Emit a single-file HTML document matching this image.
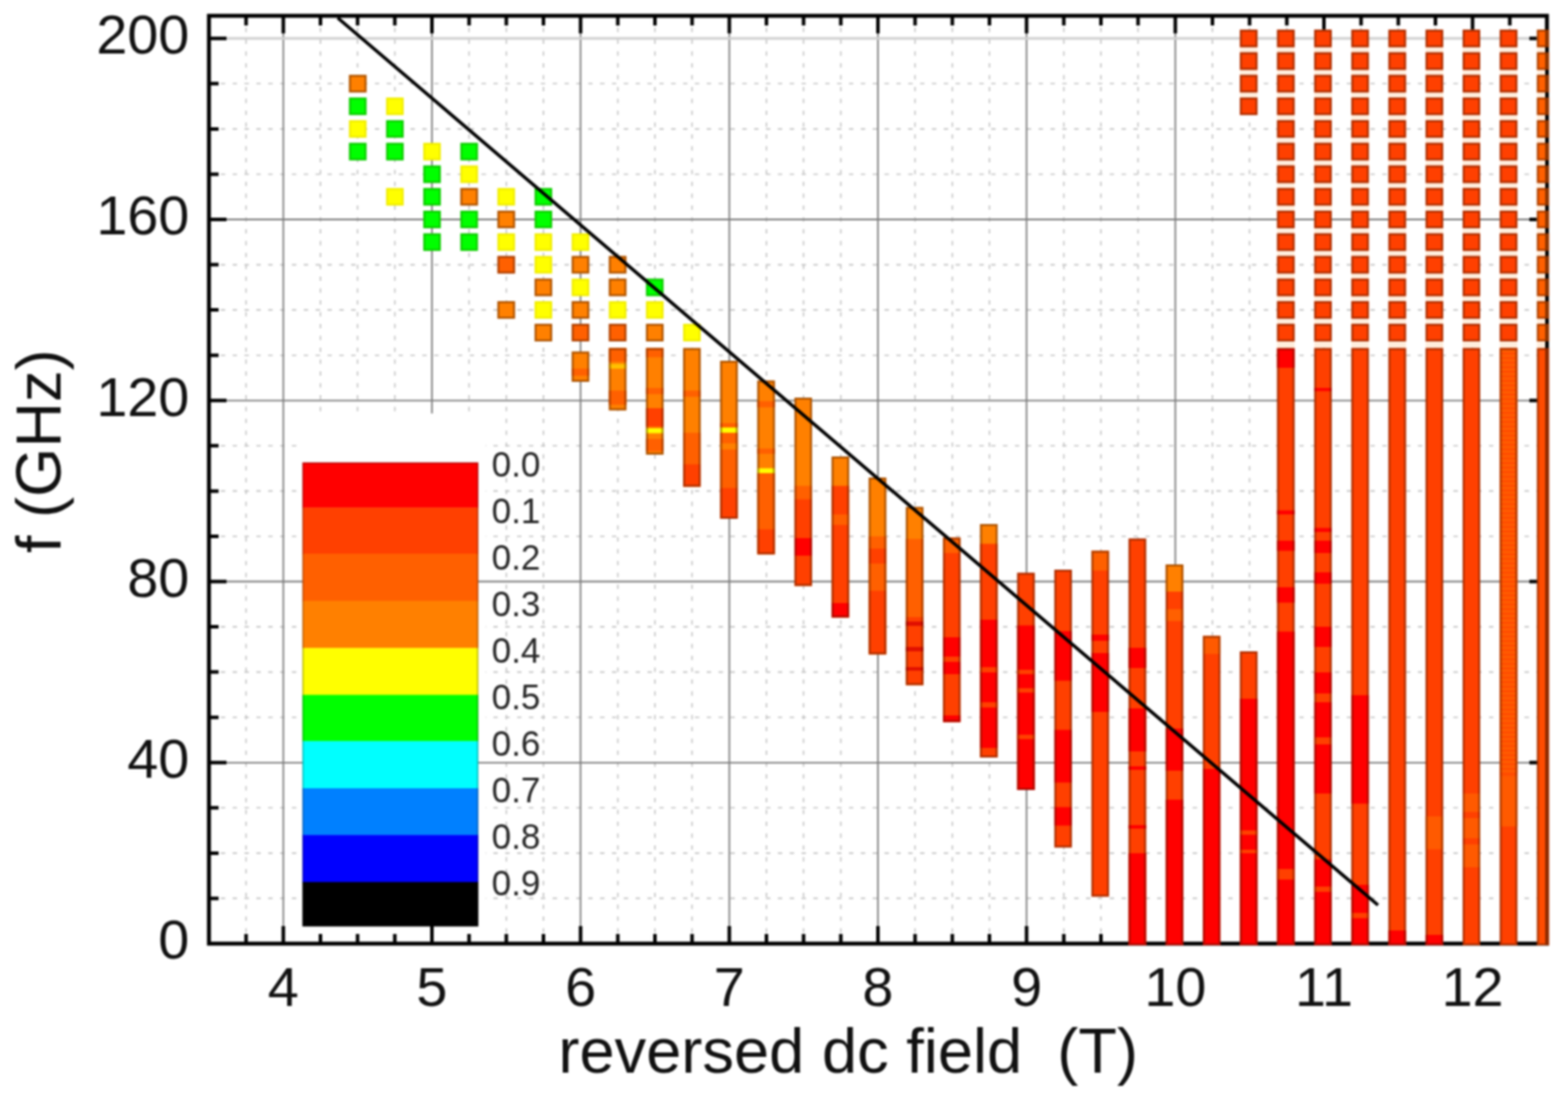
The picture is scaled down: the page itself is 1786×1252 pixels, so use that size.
<!DOCTYPE html><html><head><meta charset="utf-8"><title>reversed dc field plot</title><style>html,body{margin:0;padding:0;background:#fff;width:1786px;height:1252px;overflow:hidden}svg{display:block}#w{filter:blur(0.9px);width:1786px;height:1252px}text{font-family:"Liberation Sans",Arial,Helvetica,sans-serif;fill:#111}</style></head><body>
<div id="w"><svg width="1786" height="1252" viewBox="0 0 1786 1252">
<rect x="0" y="0" width="1786" height="1252" fill="#fff"/>
<defs><clipPath id="pc"><rect x="236" y="16" width="1524" height="1061.5"/></clipPath><clipPath id="rc"><rect x="1759.8" y="16" width="5" height="1061.5"/></clipPath></defs>
<path d="M280.3 18.0V1075.0M365.0 18.0V1075.0M407.3 18.0V1075.0M449.7 18.0V1075.0M534.3 18.0V1075.0M576.7 18.0V1075.0M619.0 18.0V1075.0M703.7 18.0V1075.0M746.0 18.0V1075.0M788.3 18.0V1075.0M873.0 18.0V1075.0M915.3 18.0V1075.0M957.7 18.0V1075.0M1042.3 18.0V1075.0M1084.7 18.0V1075.0M1127.0 18.0V1075.0M1211.7 18.0V1075.0M1254.0 18.0V1075.0M1296.3 18.0V1075.0M1381.0 18.0V1075.0M1423.3 18.0V1075.0M1465.7 18.0V1075.0M1550.3 18.0V1075.0M1592.7 18.0V1075.0M1635.0 18.0V1075.0M1719.7 18.0V1075.0M238.0 1023.4H1762.0M238.0 971.9H1762.0M238.0 920.3H1762.0M238.0 817.2H1762.0M238.0 765.6H1762.0M238.0 714.1H1762.0M238.0 611.0H1762.0M238.0 559.4H1762.0M238.0 507.8H1762.0M238.0 404.7H1762.0M238.0 353.1H1762.0M238.0 301.6H1762.0M238.0 198.5H1762.0M238.0 146.9H1762.0M238.0 95.3H1762.0" stroke="#c4c4c4" stroke-width="1.6" stroke-dasharray="5 8.5" fill="none"/>
<path d="M322.7 18.0V1075.0M492.0 18.0V1075.0M661.3 18.0V1075.0M830.7 18.0V1075.0M1000.0 18.0V1075.0M1169.3 18.0V1075.0M1338.7 18.0V1075.0M1508.0 18.0V1075.0M1677.3 18.0V1075.0" stroke="#7c7c7c" stroke-width="1.8" fill="none"/>
<rect x="339" y="471" width="214" height="604" fill="#fff"/>
<path d="M238.0 868.8H1762.0M238.0 662.5H1762.0M238.0 456.3H1762.0M238.0 250.0H1762.0" stroke="#7c7c7c" stroke-width="1.8" fill="none"/>
<path d="M238.0 43.8H1762.0" stroke="#d0d0d0" stroke-width="3" fill="none"/>
<path d="M238.0 1075.0v-11M238.0 18.0v11M280.3 1075.0v-11M280.3 18.0v11M322.7 1075.0v-20M322.7 18.0v20M365.0 1075.0v-11M365.0 18.0v11M407.3 1075.0v-11M407.3 18.0v11M449.7 1075.0v-11M449.7 18.0v11M492.0 1075.0v-20M492.0 18.0v20M534.3 1075.0v-11M534.3 18.0v11M576.7 1075.0v-11M576.7 18.0v11M619.0 1075.0v-11M619.0 18.0v11M661.3 1075.0v-20M661.3 18.0v20M703.7 1075.0v-11M703.7 18.0v11M746.0 1075.0v-11M746.0 18.0v11M788.3 1075.0v-11M788.3 18.0v11M830.7 1075.0v-20M830.7 18.0v20M873.0 1075.0v-11M873.0 18.0v11M915.3 1075.0v-11M915.3 18.0v11M957.7 1075.0v-11M957.7 18.0v11M1000.0 1075.0v-20M1000.0 18.0v20M1042.3 1075.0v-11M1042.3 18.0v11M1084.7 1075.0v-11M1084.7 18.0v11M1127.0 1075.0v-11M1127.0 18.0v11M1169.3 1075.0v-20M1169.3 18.0v20M1211.7 1075.0v-11M1211.7 18.0v11M1254.0 1075.0v-11M1254.0 18.0v11M1296.3 1075.0v-11M1296.3 18.0v11M1338.7 1075.0v-20M1338.7 18.0v20M1381.0 1075.0v-11M1381.0 18.0v11M1423.3 1075.0v-11M1423.3 18.0v11M1465.7 1075.0v-11M1465.7 18.0v11M1508.0 1075.0v-20M1508.0 18.0v20M1550.3 1075.0v-11M1550.3 18.0v11M1592.7 1075.0v-11M1592.7 18.0v11M1635.0 1075.0v-11M1635.0 18.0v11M1677.3 1075.0v-20M1677.3 18.0v20M1719.7 1075.0v-11M1719.7 18.0v11M1762.0 1075.0v-11M1762.0 18.0v11M238.0 1075.0h20M1762.0 1075.0h-20M238.0 1023.4h11M1762.0 1023.4h-11M238.0 971.9h11M1762.0 971.9h-11M238.0 920.3h11M1762.0 920.3h-11M238.0 868.8h20M1762.0 868.8h-20M238.0 817.2h11M1762.0 817.2h-11M238.0 765.6h11M1762.0 765.6h-11M238.0 714.1h11M1762.0 714.1h-11M238.0 662.5h20M1762.0 662.5h-20M238.0 611.0h11M1762.0 611.0h-11M238.0 559.4h11M1762.0 559.4h-11M238.0 507.8h11M1762.0 507.8h-11M238.0 456.3h20M1762.0 456.3h-20M238.0 404.7h11M1762.0 404.7h-11M238.0 353.1h11M1762.0 353.1h-11M238.0 301.6h11M1762.0 301.6h-11M238.0 250.0h20M1762.0 250.0h-20M238.0 198.5h11M1762.0 198.5h-11M238.0 146.9h11M1762.0 146.9h-11M238.0 95.3h11M1762.0 95.3h-11M238.0 43.8h20M1762.0 43.8h-20" stroke="#000" stroke-width="4" fill="none"/>
<rect x="238.0" y="18.0" width="1524.0" height="1057.0" fill="none" stroke="#000" stroke-width="4.5"/>
<g clip-path="url(#pc)">
<rect x="1454.6" y="33.8" width="20" height="362.7" fill="#ffeedd"/>
<rect x="1496.9" y="33.8" width="20" height="362.7" fill="#ffeedd"/>
<rect x="1539.2" y="33.8" width="20" height="362.7" fill="#ffeedd"/>
<rect x="1581.5" y="33.8" width="20" height="362.7" fill="#ffeedd"/>
<rect x="1623.8" y="33.8" width="20" height="362.7" fill="#ffeedd"/>
<rect x="1666.0" y="33.8" width="20" height="362.7" fill="#ffeedd"/>
<rect x="1708.3" y="33.8" width="20" height="362.7" fill="#ffeedd"/>
<rect x="1750.6" y="33.8" width="20" height="362.7" fill="#ffeedd"/>
<rect x="1412.3" y="33.8" width="20" height="77.3" fill="#ffeedd"/>
<rect x="397.5" y="85.3" width="20" height="20" fill="#ff8000"/>
<rect x="398.6" y="86.4" width="17.8" height="17.8" fill="none" stroke="#3a1400" stroke-opacity="0.42" stroke-width="2.2"/>
<rect x="397.5" y="111.1" width="20" height="20" fill="#00ff00"/>
<rect x="398.6" y="112.2" width="17.8" height="17.8" fill="none" stroke="#3a1400" stroke-opacity="0.22" stroke-width="2.2"/>
<rect x="397.5" y="136.9" width="20" height="20" fill="#ffff00"/>
<rect x="398.6" y="138.0" width="17.8" height="17.8" fill="none" stroke="#3a1400" stroke-opacity="0.08" stroke-width="2.2"/>
<rect x="397.5" y="162.7" width="20" height="20" fill="#00ff00"/>
<rect x="398.6" y="163.8" width="17.8" height="17.8" fill="none" stroke="#3a1400" stroke-opacity="0.22" stroke-width="2.2"/>
<rect x="439.8" y="111.1" width="20" height="20" fill="#ffff00"/>
<rect x="440.9" y="112.2" width="17.8" height="17.8" fill="none" stroke="#3a1400" stroke-opacity="0.08" stroke-width="2.2"/>
<rect x="439.8" y="136.9" width="20" height="20" fill="#00ff00"/>
<rect x="440.9" y="138.0" width="17.8" height="17.8" fill="none" stroke="#3a1400" stroke-opacity="0.22" stroke-width="2.2"/>
<rect x="439.8" y="162.7" width="20" height="20" fill="#00ff00"/>
<rect x="440.9" y="163.8" width="17.8" height="17.8" fill="none" stroke="#3a1400" stroke-opacity="0.22" stroke-width="2.2"/>
<rect x="439.8" y="214.2" width="20" height="20" fill="#ffff00"/>
<rect x="440.9" y="215.3" width="17.8" height="17.8" fill="none" stroke="#3a1400" stroke-opacity="0.08" stroke-width="2.2"/>
<rect x="482.1" y="162.7" width="20" height="20" fill="#ffff00"/>
<rect x="483.2" y="163.8" width="17.8" height="17.8" fill="none" stroke="#3a1400" stroke-opacity="0.08" stroke-width="2.2"/>
<rect x="482.1" y="188.5" width="20" height="20" fill="#00ff00"/>
<rect x="483.2" y="189.6" width="17.8" height="17.8" fill="none" stroke="#3a1400" stroke-opacity="0.22" stroke-width="2.2"/>
<rect x="482.1" y="214.2" width="20" height="20" fill="#00ff00"/>
<rect x="483.2" y="215.3" width="17.8" height="17.8" fill="none" stroke="#3a1400" stroke-opacity="0.22" stroke-width="2.2"/>
<rect x="482.1" y="240.0" width="20" height="20" fill="#00ff00"/>
<rect x="483.2" y="241.1" width="17.8" height="17.8" fill="none" stroke="#3a1400" stroke-opacity="0.22" stroke-width="2.2"/>
<rect x="482.1" y="265.8" width="20" height="20" fill="#00ff00"/>
<rect x="483.2" y="266.9" width="17.8" height="17.8" fill="none" stroke="#3a1400" stroke-opacity="0.22" stroke-width="2.2"/>
<rect x="524.4" y="162.7" width="20" height="20" fill="#00ff00"/>
<rect x="525.5" y="163.8" width="17.8" height="17.8" fill="none" stroke="#3a1400" stroke-opacity="0.22" stroke-width="2.2"/>
<rect x="524.4" y="188.5" width="20" height="20" fill="#ffff00"/>
<rect x="525.5" y="189.6" width="17.8" height="17.8" fill="none" stroke="#3a1400" stroke-opacity="0.08" stroke-width="2.2"/>
<rect x="524.4" y="214.2" width="20" height="20" fill="#ff8000"/>
<rect x="525.5" y="215.3" width="17.8" height="17.8" fill="none" stroke="#3a1400" stroke-opacity="0.42" stroke-width="2.2"/>
<rect x="524.4" y="240.0" width="20" height="20" fill="#00ff00"/>
<rect x="525.5" y="241.1" width="17.8" height="17.8" fill="none" stroke="#3a1400" stroke-opacity="0.22" stroke-width="2.2"/>
<rect x="524.4" y="265.8" width="20" height="20" fill="#00ff00"/>
<rect x="525.5" y="266.9" width="17.8" height="17.8" fill="none" stroke="#3a1400" stroke-opacity="0.22" stroke-width="2.2"/>
<rect x="566.6" y="214.2" width="20" height="20" fill="#ffff00"/>
<rect x="567.7" y="215.3" width="17.8" height="17.8" fill="none" stroke="#3a1400" stroke-opacity="0.08" stroke-width="2.2"/>
<rect x="566.6" y="240.0" width="20" height="20" fill="#ff8000"/>
<rect x="567.7" y="241.1" width="17.8" height="17.8" fill="none" stroke="#3a1400" stroke-opacity="0.42" stroke-width="2.2"/>
<rect x="566.6" y="265.8" width="20" height="20" fill="#ffff00"/>
<rect x="567.7" y="266.9" width="17.8" height="17.8" fill="none" stroke="#3a1400" stroke-opacity="0.08" stroke-width="2.2"/>
<rect x="566.6" y="291.6" width="20" height="20" fill="#ff6000"/>
<rect x="567.7" y="292.7" width="17.8" height="17.8" fill="none" stroke="#3a1400" stroke-opacity="0.42" stroke-width="2.2"/>
<rect x="566.6" y="343.1" width="20" height="20" fill="#ff8000"/>
<rect x="567.7" y="344.2" width="17.8" height="17.8" fill="none" stroke="#3a1400" stroke-opacity="0.42" stroke-width="2.2"/>
<rect x="608.9" y="214.2" width="20" height="20" fill="#00ff00"/>
<rect x="610.0" y="215.3" width="17.8" height="17.8" fill="none" stroke="#3a1400" stroke-opacity="0.22" stroke-width="2.2"/>
<rect x="608.9" y="240.0" width="20" height="20" fill="#00ff00"/>
<rect x="610.0" y="241.1" width="17.8" height="17.8" fill="none" stroke="#3a1400" stroke-opacity="0.22" stroke-width="2.2"/>
<rect x="608.9" y="265.8" width="20" height="20" fill="#ffff00"/>
<rect x="610.0" y="266.9" width="17.8" height="17.8" fill="none" stroke="#3a1400" stroke-opacity="0.08" stroke-width="2.2"/>
<rect x="608.9" y="291.6" width="20" height="20" fill="#ffff00"/>
<rect x="610.0" y="292.7" width="17.8" height="17.8" fill="none" stroke="#3a1400" stroke-opacity="0.08" stroke-width="2.2"/>
<rect x="608.9" y="317.4" width="20" height="20" fill="#ff8000"/>
<rect x="610.0" y="318.5" width="17.8" height="17.8" fill="none" stroke="#3a1400" stroke-opacity="0.42" stroke-width="2.2"/>
<rect x="608.9" y="343.1" width="20" height="20" fill="#ffff00"/>
<rect x="610.0" y="344.2" width="17.8" height="17.8" fill="none" stroke="#3a1400" stroke-opacity="0.08" stroke-width="2.2"/>
<rect x="608.9" y="368.9" width="20" height="20" fill="#ff8000"/>
<rect x="610.0" y="370.0" width="17.8" height="17.8" fill="none" stroke="#3a1400" stroke-opacity="0.42" stroke-width="2.2"/>
<rect x="651.2" y="265.8" width="20" height="20" fill="#ffff00"/>
<rect x="652.3" y="266.9" width="17.8" height="17.8" fill="none" stroke="#3a1400" stroke-opacity="0.08" stroke-width="2.2"/>
<rect x="651.2" y="291.6" width="20" height="20" fill="#ff8000"/>
<rect x="652.3" y="292.7" width="17.8" height="17.8" fill="none" stroke="#3a1400" stroke-opacity="0.42" stroke-width="2.2"/>
<rect x="651.2" y="317.4" width="20" height="20" fill="#ffff00"/>
<rect x="652.3" y="318.5" width="17.8" height="17.8" fill="none" stroke="#3a1400" stroke-opacity="0.08" stroke-width="2.2"/>
<rect x="651.2" y="343.1" width="20" height="20" fill="#ff8000"/>
<rect x="652.3" y="344.2" width="17.8" height="17.8" fill="none" stroke="#3a1400" stroke-opacity="0.42" stroke-width="2.2"/>
<rect x="651.2" y="368.9" width="20" height="20" fill="#ff6000"/>
<rect x="652.3" y="370.0" width="17.8" height="17.8" fill="none" stroke="#3a1400" stroke-opacity="0.42" stroke-width="2.2"/>
<rect x="693.5" y="291.6" width="20" height="20" fill="#ff8000"/>
<rect x="694.6" y="292.7" width="17.8" height="17.8" fill="none" stroke="#3a1400" stroke-opacity="0.42" stroke-width="2.2"/>
<rect x="693.5" y="317.4" width="20" height="20" fill="#ff8000"/>
<rect x="694.6" y="318.5" width="17.8" height="17.8" fill="none" stroke="#3a1400" stroke-opacity="0.42" stroke-width="2.2"/>
<rect x="693.5" y="343.1" width="20" height="20" fill="#ffff00"/>
<rect x="694.6" y="344.2" width="17.8" height="17.8" fill="none" stroke="#3a1400" stroke-opacity="0.08" stroke-width="2.2"/>
<rect x="693.5" y="368.9" width="20" height="20" fill="#ff6000"/>
<rect x="694.6" y="370.0" width="17.8" height="17.8" fill="none" stroke="#3a1400" stroke-opacity="0.42" stroke-width="2.2"/>
<rect x="735.8" y="317.4" width="20" height="20" fill="#00ff00"/>
<rect x="736.9" y="318.5" width="17.8" height="17.8" fill="none" stroke="#3a1400" stroke-opacity="0.22" stroke-width="2.2"/>
<rect x="735.8" y="343.1" width="20" height="20" fill="#ffff00"/>
<rect x="736.9" y="344.2" width="17.8" height="17.8" fill="none" stroke="#3a1400" stroke-opacity="0.08" stroke-width="2.2"/>
<rect x="735.8" y="368.9" width="20" height="20" fill="#ff8000"/>
<rect x="736.9" y="370.0" width="17.8" height="17.8" fill="none" stroke="#3a1400" stroke-opacity="0.42" stroke-width="2.2"/>
<rect x="778.1" y="368.9" width="20" height="20" fill="#ffff00"/>
<rect x="779.2" y="370.0" width="17.8" height="17.8" fill="none" stroke="#3a1400" stroke-opacity="0.08" stroke-width="2.2"/>
<rect x="651.2" y="400.5" width="20" height="34.5" fill="#ff8000"/>
<rect x="651.2" y="420.0" width="20" height="8.0" fill="#ff6000"/>
<rect x="652.3" y="401.6" width="17.8" height="32.3" fill="none" stroke="#3a1400" stroke-opacity="0.42" stroke-width="2.2"/>
<rect x="693.5" y="396.5" width="20" height="71.0" fill="#ff8000"/>
<rect x="693.5" y="396.5" width="20" height="15.5" fill="#ff6000"/>
<rect x="693.5" y="414.5" width="20" height="5.5" fill="#ffc000"/>
<rect x="693.5" y="445.0" width="20" height="16.0" fill="#ff6000"/>
<rect x="694.6" y="397.6" width="17.8" height="68.8" fill="none" stroke="#3a1400" stroke-opacity="0.42" stroke-width="2.2"/>
<rect x="735.8" y="396.5" width="20" height="121.5" fill="#ff8000"/>
<rect x="735.8" y="396.5" width="20" height="10.5" fill="#ff6000"/>
<rect x="735.8" y="442.0" width="20" height="7.0" fill="#ff6000"/>
<rect x="735.8" y="465.0" width="20" height="21.0" fill="#ff4000"/>
<rect x="735.8" y="488.0" width="20" height="5.5" fill="#ffff00"/>
<rect x="735.8" y="500.0" width="20" height="14.0" fill="#ff6000"/>
<rect x="736.9" y="397.6" width="17.8" height="119.3" fill="none" stroke="#3a1400" stroke-opacity="0.42" stroke-width="2.2"/>
<rect x="778.1" y="396.5" width="20" height="158.0" fill="#ff8000"/>
<rect x="778.1" y="445.0" width="20" height="7.0" fill="#ff6000"/>
<rect x="778.1" y="493.0" width="20" height="36.0" fill="#ff6000"/>
<rect x="778.1" y="529.0" width="20" height="25.5" fill="#ff4000"/>
<rect x="779.2" y="397.6" width="17.8" height="155.8" fill="none" stroke="#3a1400" stroke-opacity="0.42" stroke-width="2.2"/>
<rect x="820.3" y="411.0" width="20" height="180.0" fill="#ff8000"/>
<rect x="820.3" y="482.0" width="20" height="5.0" fill="#ff6000"/>
<rect x="820.3" y="487.0" width="20" height="6.0" fill="#ffff00"/>
<rect x="820.3" y="493.0" width="20" height="63.0" fill="#ff6000"/>
<rect x="820.3" y="505.0" width="20" height="7.0" fill="#ff8000"/>
<rect x="820.3" y="556.0" width="20" height="35.0" fill="#ff4000"/>
<rect x="821.4" y="412.1" width="17.8" height="177.8" fill="none" stroke="#3a1400" stroke-opacity="0.42" stroke-width="2.2"/>
<rect x="862.6" y="433.5" width="20" height="198.0" fill="#ff8000"/>
<rect x="862.6" y="457.0" width="20" height="7.0" fill="#ff6000"/>
<rect x="862.6" y="511.0" width="20" height="6.0" fill="#ff6000"/>
<rect x="862.6" y="533.5" width="20" height="5.5" fill="#ffff00"/>
<rect x="862.6" y="539.0" width="20" height="64.0" fill="#ff6000"/>
<rect x="862.6" y="603.0" width="20" height="28.5" fill="#ff4000"/>
<rect x="863.7" y="434.6" width="17.8" height="195.8" fill="none" stroke="#3a1400" stroke-opacity="0.42" stroke-width="2.2"/>
<rect x="904.9" y="453.0" width="20" height="214.5" fill="#ff8000"/>
<rect x="904.9" y="553.5" width="20" height="15.0" fill="#ff6000"/>
<rect x="904.9" y="568.5" width="20" height="44.5" fill="#ff4000"/>
<rect x="904.9" y="613.0" width="20" height="20.0" fill="#ff0000"/>
<rect x="904.9" y="633.0" width="20" height="34.5" fill="#ff4000"/>
<rect x="906.0" y="454.1" width="17.8" height="212.3" fill="none" stroke="#3a1400" stroke-opacity="0.42" stroke-width="2.2"/>
<rect x="947.2" y="520.0" width="20" height="183.5" fill="#ff8000"/>
<rect x="947.2" y="553.5" width="20" height="133.5" fill="#ff4000"/>
<rect x="947.2" y="586.0" width="20" height="12.0" fill="#ff6000"/>
<rect x="947.2" y="687.0" width="20" height="16.5" fill="#ff0000"/>
<rect x="948.3" y="521.1" width="17.8" height="181.3" fill="none" stroke="#3a1400" stroke-opacity="0.42" stroke-width="2.2"/>
<rect x="989.5" y="544.0" width="20" height="201.5" fill="#ff8000"/>
<rect x="989.5" y="611.0" width="20" height="14.0" fill="#ff6000"/>
<rect x="989.5" y="625.0" width="20" height="17.0" fill="#ff4000"/>
<rect x="989.5" y="642.0" width="20" height="31.0" fill="#ff6000"/>
<rect x="989.5" y="673.0" width="20" height="72.5" fill="#ff4000"/>
<rect x="990.6" y="545.1" width="17.8" height="199.3" fill="none" stroke="#3a1400" stroke-opacity="0.42" stroke-width="2.2"/>
<rect x="1031.8" y="577.5" width="20" height="203.0" fill="#ff8000"/>
<rect x="1031.8" y="614.0" width="20" height="89.0" fill="#ff6000"/>
<rect x="1031.8" y="703.0" width="20" height="77.5" fill="#ff4000"/>
<rect x="1031.8" y="708.0" width="20" height="5.0" fill="#e01000"/>
<rect x="1031.8" y="737.0" width="20" height="5.0" fill="#e01000"/>
<rect x="1031.8" y="760.0" width="20" height="4.0" fill="#e01000"/>
<rect x="1032.9" y="578.6" width="17.8" height="200.8" fill="none" stroke="#3a1400" stroke-opacity="0.42" stroke-width="2.2"/>
<rect x="1074.1" y="612.5" width="20" height="210.0" fill="#ff4000"/>
<rect x="1074.1" y="612.5" width="20" height="17.5" fill="#ff6000"/>
<rect x="1074.1" y="647.5" width="20" height="78.5" fill="#ff4000"/>
<rect x="1074.1" y="726.0" width="20" height="22.0" fill="#ff0000"/>
<rect x="1074.1" y="748.0" width="20" height="6.0" fill="#ff4000"/>
<rect x="1074.1" y="754.0" width="20" height="14.0" fill="#ff0000"/>
<rect x="1074.1" y="768.0" width="20" height="54.5" fill="#ff4000"/>
<rect x="1074.1" y="815.0" width="20" height="7.5" fill="#ff0000"/>
<rect x="1075.2" y="613.6" width="17.8" height="207.8" fill="none" stroke="#3a1400" stroke-opacity="0.42" stroke-width="2.2"/>
<rect x="1116.3" y="597.0" width="20" height="266.0" fill="#ff8000"/>
<rect x="1116.3" y="619.5" width="20" height="86.5" fill="#ff4000"/>
<rect x="1116.3" y="706.0" width="20" height="146.0" fill="#ff0000"/>
<rect x="1116.3" y="760.0" width="20" height="6.0" fill="#ff4000"/>
<rect x="1116.3" y="800.0" width="20" height="6.0" fill="#ff4000"/>
<rect x="1116.3" y="852.0" width="20" height="11.0" fill="#ff4000"/>
<rect x="1117.4" y="598.1" width="17.8" height="263.8" fill="none" stroke="#3a1400" stroke-opacity="0.42" stroke-width="2.2"/>
<rect x="1158.6" y="652.5" width="20" height="247.5" fill="#ff4000"/>
<rect x="1158.6" y="712.5" width="20" height="187.5" fill="#ff0000"/>
<rect x="1158.6" y="763.0" width="20" height="5.0" fill="#ff4000"/>
<rect x="1158.6" y="784.0" width="20" height="5.0" fill="#ff4000"/>
<rect x="1158.6" y="837.0" width="20" height="5.0" fill="#ff4000"/>
<rect x="1159.7" y="653.6" width="17.8" height="245.3" fill="none" stroke="#3a1400" stroke-opacity="0.42" stroke-width="2.2"/>
<rect x="1200.9" y="649.0" width="20" height="316.5" fill="#ff4000"/>
<rect x="1200.9" y="719.0" width="20" height="56.5" fill="#ff0000"/>
<rect x="1200.9" y="831.5" width="20" height="60.0" fill="#ff0000"/>
<rect x="1200.9" y="919.5" width="20" height="21.0" fill="#ff0000"/>
<rect x="1202.0" y="650.1" width="17.8" height="314.3" fill="none" stroke="#3a1400" stroke-opacity="0.42" stroke-width="2.2"/>
<rect x="1243.2" y="627.5" width="20" height="394.0" fill="#ff4000"/>
<rect x="1243.2" y="627.5" width="20" height="22.5" fill="#ff6000"/>
<rect x="1243.2" y="723.0" width="20" height="7.0" fill="#ff0000"/>
<rect x="1243.2" y="744.0" width="20" height="67.0" fill="#ff0000"/>
<rect x="1244.3" y="628.6" width="17.8" height="391.8" fill="none" stroke="#3a1400" stroke-opacity="0.42" stroke-width="2.2"/>
<rect x="1285.5" y="613.5" width="20" height="463.5" fill="#ff4000"/>
<rect x="1285.5" y="738.0" width="20" height="23.0" fill="#ff0000"/>
<rect x="1285.5" y="807.0" width="20" height="49.0" fill="#ff0000"/>
<rect x="1285.5" y="873.0" width="20" height="4.0" fill="#ff0000"/>
<rect x="1285.5" y="940.0" width="20" height="4.0" fill="#ff0000"/>
<rect x="1285.5" y="972.0" width="20" height="105.0" fill="#ff0000"/>
<rect x="1286.6" y="614.6" width="17.8" height="461.3" fill="none" stroke="#3a1400" stroke-opacity="0.42" stroke-width="2.2"/>
<rect x="1327.8" y="643.0" width="20" height="434.0" fill="#ff4000"/>
<rect x="1327.8" y="643.0" width="20" height="31.0" fill="#ff8000"/>
<rect x="1327.8" y="694.0" width="20" height="13.5" fill="#ff6000"/>
<rect x="1327.8" y="830.0" width="20" height="48.0" fill="#ff0000"/>
<rect x="1327.8" y="911.0" width="20" height="166.0" fill="#ff0000"/>
<rect x="1328.9" y="644.1" width="17.8" height="431.8" fill="none" stroke="#3a1400" stroke-opacity="0.42" stroke-width="2.2"/>
<rect x="1370.1" y="724.5" width="20" height="352.5" fill="#ff4000"/>
<rect x="1370.1" y="724.5" width="20" height="20.5" fill="#ff5a00"/>
<rect x="1370.1" y="876.0" width="20" height="201.0" fill="#ff0000"/>
<rect x="1371.2" y="725.6" width="17.8" height="350.3" fill="none" stroke="#3a1400" stroke-opacity="0.42" stroke-width="2.2"/>
<rect x="1412.3" y="33.8" width="20" height="20" fill="#ff4000"/>
<rect x="1413.4" y="34.9" width="17.8" height="17.8" fill="none" stroke="#3a1400" stroke-opacity="0.42" stroke-width="2.2"/>
<rect x="1412.3" y="59.6" width="20" height="20" fill="#ff4000"/>
<rect x="1413.4" y="60.7" width="17.8" height="17.8" fill="none" stroke="#3a1400" stroke-opacity="0.42" stroke-width="2.2"/>
<rect x="1412.3" y="85.3" width="20" height="20" fill="#ff4000"/>
<rect x="1413.4" y="86.4" width="17.8" height="17.8" fill="none" stroke="#3a1400" stroke-opacity="0.42" stroke-width="2.2"/>
<rect x="1412.3" y="111.1" width="20" height="20" fill="#ff4000"/>
<rect x="1413.4" y="112.2" width="17.8" height="17.8" fill="none" stroke="#3a1400" stroke-opacity="0.42" stroke-width="2.2"/>
<rect x="1412.3" y="742.0" width="20" height="335.0" fill="#ff4000"/>
<rect x="1412.3" y="796.0" width="20" height="281.0" fill="#ff0000"/>
<rect x="1412.3" y="946.0" width="20" height="5.0" fill="#ff4000"/>
<rect x="1412.3" y="968.0" width="20" height="4.0" fill="#ff4000"/>
<rect x="1413.4" y="743.1" width="17.8" height="332.8" fill="none" stroke="#3a1400" stroke-opacity="0.42" stroke-width="2.2"/>
<rect x="1454.6" y="33.8" width="20" height="20" fill="#ff4000"/>
<rect x="1455.7" y="34.9" width="17.8" height="17.8" fill="none" stroke="#3a1400" stroke-opacity="0.42" stroke-width="2.2"/>
<rect x="1454.6" y="59.6" width="20" height="20" fill="#ff4000"/>
<rect x="1455.7" y="60.7" width="17.8" height="17.8" fill="none" stroke="#3a1400" stroke-opacity="0.42" stroke-width="2.2"/>
<rect x="1454.6" y="85.3" width="20" height="20" fill="#ff4000"/>
<rect x="1455.7" y="86.4" width="17.8" height="17.8" fill="none" stroke="#3a1400" stroke-opacity="0.42" stroke-width="2.2"/>
<rect x="1454.6" y="111.1" width="20" height="20" fill="#ff4000"/>
<rect x="1455.7" y="112.2" width="17.8" height="17.8" fill="none" stroke="#3a1400" stroke-opacity="0.42" stroke-width="2.2"/>
<rect x="1454.6" y="136.9" width="20" height="20" fill="#ff4000"/>
<rect x="1455.7" y="138.0" width="17.8" height="17.8" fill="none" stroke="#3a1400" stroke-opacity="0.42" stroke-width="2.2"/>
<rect x="1454.6" y="162.7" width="20" height="20" fill="#ff4000"/>
<rect x="1455.7" y="163.8" width="17.8" height="17.8" fill="none" stroke="#3a1400" stroke-opacity="0.42" stroke-width="2.2"/>
<rect x="1454.6" y="188.5" width="20" height="20" fill="#ff4000"/>
<rect x="1455.7" y="189.6" width="17.8" height="17.8" fill="none" stroke="#3a1400" stroke-opacity="0.42" stroke-width="2.2"/>
<rect x="1454.6" y="214.2" width="20" height="20" fill="#ff4000"/>
<rect x="1455.7" y="215.3" width="17.8" height="17.8" fill="none" stroke="#3a1400" stroke-opacity="0.42" stroke-width="2.2"/>
<rect x="1454.6" y="240.0" width="20" height="20" fill="#ff4000"/>
<rect x="1455.7" y="241.1" width="17.8" height="17.8" fill="none" stroke="#3a1400" stroke-opacity="0.42" stroke-width="2.2"/>
<rect x="1454.6" y="265.8" width="20" height="20" fill="#ff4000"/>
<rect x="1455.7" y="266.9" width="17.8" height="17.8" fill="none" stroke="#3a1400" stroke-opacity="0.42" stroke-width="2.2"/>
<rect x="1454.6" y="291.6" width="20" height="20" fill="#ff4000"/>
<rect x="1455.7" y="292.7" width="17.8" height="17.8" fill="none" stroke="#3a1400" stroke-opacity="0.42" stroke-width="2.2"/>
<rect x="1454.6" y="317.4" width="20" height="20" fill="#ff4000"/>
<rect x="1455.7" y="318.5" width="17.8" height="17.8" fill="none" stroke="#3a1400" stroke-opacity="0.42" stroke-width="2.2"/>
<rect x="1454.6" y="343.1" width="20" height="20" fill="#ff4000"/>
<rect x="1455.7" y="344.2" width="17.8" height="17.8" fill="none" stroke="#3a1400" stroke-opacity="0.42" stroke-width="2.2"/>
<rect x="1454.6" y="368.9" width="20" height="20" fill="#ff4000"/>
<rect x="1455.7" y="370.0" width="17.8" height="17.8" fill="none" stroke="#3a1400" stroke-opacity="0.42" stroke-width="2.2"/>
<rect x="1496.9" y="33.8" width="20" height="20" fill="#ff4000"/>
<rect x="1498.0" y="34.9" width="17.8" height="17.8" fill="none" stroke="#3a1400" stroke-opacity="0.42" stroke-width="2.2"/>
<rect x="1496.9" y="59.6" width="20" height="20" fill="#ff4000"/>
<rect x="1498.0" y="60.7" width="17.8" height="17.8" fill="none" stroke="#3a1400" stroke-opacity="0.42" stroke-width="2.2"/>
<rect x="1496.9" y="85.3" width="20" height="20" fill="#ff4000"/>
<rect x="1498.0" y="86.4" width="17.8" height="17.8" fill="none" stroke="#3a1400" stroke-opacity="0.42" stroke-width="2.2"/>
<rect x="1496.9" y="111.1" width="20" height="20" fill="#ff4000"/>
<rect x="1498.0" y="112.2" width="17.8" height="17.8" fill="none" stroke="#3a1400" stroke-opacity="0.42" stroke-width="2.2"/>
<rect x="1496.9" y="136.9" width="20" height="20" fill="#ff4000"/>
<rect x="1498.0" y="138.0" width="17.8" height="17.8" fill="none" stroke="#3a1400" stroke-opacity="0.42" stroke-width="2.2"/>
<rect x="1496.9" y="162.7" width="20" height="20" fill="#ff4000"/>
<rect x="1498.0" y="163.8" width="17.8" height="17.8" fill="none" stroke="#3a1400" stroke-opacity="0.42" stroke-width="2.2"/>
<rect x="1496.9" y="188.5" width="20" height="20" fill="#ff4000"/>
<rect x="1498.0" y="189.6" width="17.8" height="17.8" fill="none" stroke="#3a1400" stroke-opacity="0.42" stroke-width="2.2"/>
<rect x="1496.9" y="214.2" width="20" height="20" fill="#ff4000"/>
<rect x="1498.0" y="215.3" width="17.8" height="17.8" fill="none" stroke="#3a1400" stroke-opacity="0.42" stroke-width="2.2"/>
<rect x="1496.9" y="240.0" width="20" height="20" fill="#ff4000"/>
<rect x="1498.0" y="241.1" width="17.8" height="17.8" fill="none" stroke="#3a1400" stroke-opacity="0.42" stroke-width="2.2"/>
<rect x="1496.9" y="265.8" width="20" height="20" fill="#ff4000"/>
<rect x="1498.0" y="266.9" width="17.8" height="17.8" fill="none" stroke="#3a1400" stroke-opacity="0.42" stroke-width="2.2"/>
<rect x="1496.9" y="291.6" width="20" height="20" fill="#ff4000"/>
<rect x="1498.0" y="292.7" width="17.8" height="17.8" fill="none" stroke="#3a1400" stroke-opacity="0.42" stroke-width="2.2"/>
<rect x="1496.9" y="317.4" width="20" height="20" fill="#ff4000"/>
<rect x="1498.0" y="318.5" width="17.8" height="17.8" fill="none" stroke="#3a1400" stroke-opacity="0.42" stroke-width="2.2"/>
<rect x="1496.9" y="343.1" width="20" height="20" fill="#ff4000"/>
<rect x="1498.0" y="344.2" width="17.8" height="17.8" fill="none" stroke="#3a1400" stroke-opacity="0.42" stroke-width="2.2"/>
<rect x="1496.9" y="368.9" width="20" height="20" fill="#ff4000"/>
<rect x="1498.0" y="370.0" width="17.8" height="17.8" fill="none" stroke="#3a1400" stroke-opacity="0.42" stroke-width="2.2"/>
<rect x="1539.2" y="33.8" width="20" height="20" fill="#ff4000"/>
<rect x="1540.3" y="34.9" width="17.8" height="17.8" fill="none" stroke="#3a1400" stroke-opacity="0.42" stroke-width="2.2"/>
<rect x="1539.2" y="59.6" width="20" height="20" fill="#ff4000"/>
<rect x="1540.3" y="60.7" width="17.8" height="17.8" fill="none" stroke="#3a1400" stroke-opacity="0.42" stroke-width="2.2"/>
<rect x="1539.2" y="85.3" width="20" height="20" fill="#ff4000"/>
<rect x="1540.3" y="86.4" width="17.8" height="17.8" fill="none" stroke="#3a1400" stroke-opacity="0.42" stroke-width="2.2"/>
<rect x="1539.2" y="111.1" width="20" height="20" fill="#ff4000"/>
<rect x="1540.3" y="112.2" width="17.8" height="17.8" fill="none" stroke="#3a1400" stroke-opacity="0.42" stroke-width="2.2"/>
<rect x="1539.2" y="136.9" width="20" height="20" fill="#ff4000"/>
<rect x="1540.3" y="138.0" width="17.8" height="17.8" fill="none" stroke="#3a1400" stroke-opacity="0.42" stroke-width="2.2"/>
<rect x="1539.2" y="162.7" width="20" height="20" fill="#ff4000"/>
<rect x="1540.3" y="163.8" width="17.8" height="17.8" fill="none" stroke="#3a1400" stroke-opacity="0.42" stroke-width="2.2"/>
<rect x="1539.2" y="188.5" width="20" height="20" fill="#ff4000"/>
<rect x="1540.3" y="189.6" width="17.8" height="17.8" fill="none" stroke="#3a1400" stroke-opacity="0.42" stroke-width="2.2"/>
<rect x="1539.2" y="214.2" width="20" height="20" fill="#ff4000"/>
<rect x="1540.3" y="215.3" width="17.8" height="17.8" fill="none" stroke="#3a1400" stroke-opacity="0.42" stroke-width="2.2"/>
<rect x="1539.2" y="240.0" width="20" height="20" fill="#ff4000"/>
<rect x="1540.3" y="241.1" width="17.8" height="17.8" fill="none" stroke="#3a1400" stroke-opacity="0.42" stroke-width="2.2"/>
<rect x="1539.2" y="265.8" width="20" height="20" fill="#ff4000"/>
<rect x="1540.3" y="266.9" width="17.8" height="17.8" fill="none" stroke="#3a1400" stroke-opacity="0.42" stroke-width="2.2"/>
<rect x="1539.2" y="291.6" width="20" height="20" fill="#ff4000"/>
<rect x="1540.3" y="292.7" width="17.8" height="17.8" fill="none" stroke="#3a1400" stroke-opacity="0.42" stroke-width="2.2"/>
<rect x="1539.2" y="317.4" width="20" height="20" fill="#ff4000"/>
<rect x="1540.3" y="318.5" width="17.8" height="17.8" fill="none" stroke="#3a1400" stroke-opacity="0.42" stroke-width="2.2"/>
<rect x="1539.2" y="343.1" width="20" height="20" fill="#ff4000"/>
<rect x="1540.3" y="344.2" width="17.8" height="17.8" fill="none" stroke="#3a1400" stroke-opacity="0.42" stroke-width="2.2"/>
<rect x="1539.2" y="368.9" width="20" height="20" fill="#ff4000"/>
<rect x="1540.3" y="370.0" width="17.8" height="17.8" fill="none" stroke="#3a1400" stroke-opacity="0.42" stroke-width="2.2"/>
<rect x="1581.5" y="33.8" width="20" height="20" fill="#ff4000"/>
<rect x="1582.6" y="34.9" width="17.8" height="17.8" fill="none" stroke="#3a1400" stroke-opacity="0.42" stroke-width="2.2"/>
<rect x="1581.5" y="59.6" width="20" height="20" fill="#ff4000"/>
<rect x="1582.6" y="60.7" width="17.8" height="17.8" fill="none" stroke="#3a1400" stroke-opacity="0.42" stroke-width="2.2"/>
<rect x="1581.5" y="85.3" width="20" height="20" fill="#ff4000"/>
<rect x="1582.6" y="86.4" width="17.8" height="17.8" fill="none" stroke="#3a1400" stroke-opacity="0.42" stroke-width="2.2"/>
<rect x="1581.5" y="111.1" width="20" height="20" fill="#ff4000"/>
<rect x="1582.6" y="112.2" width="17.8" height="17.8" fill="none" stroke="#3a1400" stroke-opacity="0.42" stroke-width="2.2"/>
<rect x="1581.5" y="136.9" width="20" height="20" fill="#ff4000"/>
<rect x="1582.6" y="138.0" width="17.8" height="17.8" fill="none" stroke="#3a1400" stroke-opacity="0.42" stroke-width="2.2"/>
<rect x="1581.5" y="162.7" width="20" height="20" fill="#ff4000"/>
<rect x="1582.6" y="163.8" width="17.8" height="17.8" fill="none" stroke="#3a1400" stroke-opacity="0.42" stroke-width="2.2"/>
<rect x="1581.5" y="188.5" width="20" height="20" fill="#ff4000"/>
<rect x="1582.6" y="189.6" width="17.8" height="17.8" fill="none" stroke="#3a1400" stroke-opacity="0.42" stroke-width="2.2"/>
<rect x="1581.5" y="214.2" width="20" height="20" fill="#ff4000"/>
<rect x="1582.6" y="215.3" width="17.8" height="17.8" fill="none" stroke="#3a1400" stroke-opacity="0.42" stroke-width="2.2"/>
<rect x="1581.5" y="240.0" width="20" height="20" fill="#ff4000"/>
<rect x="1582.6" y="241.1" width="17.8" height="17.8" fill="none" stroke="#3a1400" stroke-opacity="0.42" stroke-width="2.2"/>
<rect x="1581.5" y="265.8" width="20" height="20" fill="#ff4000"/>
<rect x="1582.6" y="266.9" width="17.8" height="17.8" fill="none" stroke="#3a1400" stroke-opacity="0.42" stroke-width="2.2"/>
<rect x="1581.5" y="291.6" width="20" height="20" fill="#ff4000"/>
<rect x="1582.6" y="292.7" width="17.8" height="17.8" fill="none" stroke="#3a1400" stroke-opacity="0.42" stroke-width="2.2"/>
<rect x="1581.5" y="317.4" width="20" height="20" fill="#ff4000"/>
<rect x="1582.6" y="318.5" width="17.8" height="17.8" fill="none" stroke="#3a1400" stroke-opacity="0.42" stroke-width="2.2"/>
<rect x="1581.5" y="343.1" width="20" height="20" fill="#ff4000"/>
<rect x="1582.6" y="344.2" width="17.8" height="17.8" fill="none" stroke="#3a1400" stroke-opacity="0.42" stroke-width="2.2"/>
<rect x="1581.5" y="368.9" width="20" height="20" fill="#ff4000"/>
<rect x="1582.6" y="370.0" width="17.8" height="17.8" fill="none" stroke="#3a1400" stroke-opacity="0.42" stroke-width="2.2"/>
<rect x="1623.8" y="33.8" width="20" height="20" fill="#ff4000"/>
<rect x="1624.9" y="34.9" width="17.8" height="17.8" fill="none" stroke="#3a1400" stroke-opacity="0.42" stroke-width="2.2"/>
<rect x="1623.8" y="59.6" width="20" height="20" fill="#ff4000"/>
<rect x="1624.9" y="60.7" width="17.8" height="17.8" fill="none" stroke="#3a1400" stroke-opacity="0.42" stroke-width="2.2"/>
<rect x="1623.8" y="85.3" width="20" height="20" fill="#ff4000"/>
<rect x="1624.9" y="86.4" width="17.8" height="17.8" fill="none" stroke="#3a1400" stroke-opacity="0.42" stroke-width="2.2"/>
<rect x="1623.8" y="111.1" width="20" height="20" fill="#ff4000"/>
<rect x="1624.9" y="112.2" width="17.8" height="17.8" fill="none" stroke="#3a1400" stroke-opacity="0.42" stroke-width="2.2"/>
<rect x="1623.8" y="136.9" width="20" height="20" fill="#ff4000"/>
<rect x="1624.9" y="138.0" width="17.8" height="17.8" fill="none" stroke="#3a1400" stroke-opacity="0.42" stroke-width="2.2"/>
<rect x="1623.8" y="162.7" width="20" height="20" fill="#ff4000"/>
<rect x="1624.9" y="163.8" width="17.8" height="17.8" fill="none" stroke="#3a1400" stroke-opacity="0.42" stroke-width="2.2"/>
<rect x="1623.8" y="188.5" width="20" height="20" fill="#ff4000"/>
<rect x="1624.9" y="189.6" width="17.8" height="17.8" fill="none" stroke="#3a1400" stroke-opacity="0.42" stroke-width="2.2"/>
<rect x="1623.8" y="214.2" width="20" height="20" fill="#ff4000"/>
<rect x="1624.9" y="215.3" width="17.8" height="17.8" fill="none" stroke="#3a1400" stroke-opacity="0.42" stroke-width="2.2"/>
<rect x="1623.8" y="240.0" width="20" height="20" fill="#ff4000"/>
<rect x="1624.9" y="241.1" width="17.8" height="17.8" fill="none" stroke="#3a1400" stroke-opacity="0.42" stroke-width="2.2"/>
<rect x="1623.8" y="265.8" width="20" height="20" fill="#ff4000"/>
<rect x="1624.9" y="266.9" width="17.8" height="17.8" fill="none" stroke="#3a1400" stroke-opacity="0.42" stroke-width="2.2"/>
<rect x="1623.8" y="291.6" width="20" height="20" fill="#ff4000"/>
<rect x="1624.9" y="292.7" width="17.8" height="17.8" fill="none" stroke="#3a1400" stroke-opacity="0.42" stroke-width="2.2"/>
<rect x="1623.8" y="317.4" width="20" height="20" fill="#ff4000"/>
<rect x="1624.9" y="318.5" width="17.8" height="17.8" fill="none" stroke="#3a1400" stroke-opacity="0.42" stroke-width="2.2"/>
<rect x="1623.8" y="343.1" width="20" height="20" fill="#ff4000"/>
<rect x="1624.9" y="344.2" width="17.8" height="17.8" fill="none" stroke="#3a1400" stroke-opacity="0.42" stroke-width="2.2"/>
<rect x="1623.8" y="368.9" width="20" height="20" fill="#ff4000"/>
<rect x="1624.9" y="370.0" width="17.8" height="17.8" fill="none" stroke="#3a1400" stroke-opacity="0.42" stroke-width="2.2"/>
<rect x="1666.0" y="33.8" width="20" height="20" fill="#ff4000"/>
<rect x="1667.1" y="34.9" width="17.8" height="17.8" fill="none" stroke="#3a1400" stroke-opacity="0.42" stroke-width="2.2"/>
<rect x="1666.0" y="59.6" width="20" height="20" fill="#ff4000"/>
<rect x="1667.1" y="60.7" width="17.8" height="17.8" fill="none" stroke="#3a1400" stroke-opacity="0.42" stroke-width="2.2"/>
<rect x="1666.0" y="85.3" width="20" height="20" fill="#ff4000"/>
<rect x="1667.1" y="86.4" width="17.8" height="17.8" fill="none" stroke="#3a1400" stroke-opacity="0.42" stroke-width="2.2"/>
<rect x="1666.0" y="111.1" width="20" height="20" fill="#ff4000"/>
<rect x="1667.1" y="112.2" width="17.8" height="17.8" fill="none" stroke="#3a1400" stroke-opacity="0.42" stroke-width="2.2"/>
<rect x="1666.0" y="136.9" width="20" height="20" fill="#ff4000"/>
<rect x="1667.1" y="138.0" width="17.8" height="17.8" fill="none" stroke="#3a1400" stroke-opacity="0.42" stroke-width="2.2"/>
<rect x="1666.0" y="162.7" width="20" height="20" fill="#ff4000"/>
<rect x="1667.1" y="163.8" width="17.8" height="17.8" fill="none" stroke="#3a1400" stroke-opacity="0.42" stroke-width="2.2"/>
<rect x="1666.0" y="188.5" width="20" height="20" fill="#ff4000"/>
<rect x="1667.1" y="189.6" width="17.8" height="17.8" fill="none" stroke="#3a1400" stroke-opacity="0.42" stroke-width="2.2"/>
<rect x="1666.0" y="214.2" width="20" height="20" fill="#ff4000"/>
<rect x="1667.1" y="215.3" width="17.8" height="17.8" fill="none" stroke="#3a1400" stroke-opacity="0.42" stroke-width="2.2"/>
<rect x="1666.0" y="240.0" width="20" height="20" fill="#ff4000"/>
<rect x="1667.1" y="241.1" width="17.8" height="17.8" fill="none" stroke="#3a1400" stroke-opacity="0.42" stroke-width="2.2"/>
<rect x="1666.0" y="265.8" width="20" height="20" fill="#ff4000"/>
<rect x="1667.1" y="266.9" width="17.8" height="17.8" fill="none" stroke="#3a1400" stroke-opacity="0.42" stroke-width="2.2"/>
<rect x="1666.0" y="291.6" width="20" height="20" fill="#ff4000"/>
<rect x="1667.1" y="292.7" width="17.8" height="17.8" fill="none" stroke="#3a1400" stroke-opacity="0.42" stroke-width="2.2"/>
<rect x="1666.0" y="317.4" width="20" height="20" fill="#ff4000"/>
<rect x="1667.1" y="318.5" width="17.8" height="17.8" fill="none" stroke="#3a1400" stroke-opacity="0.42" stroke-width="2.2"/>
<rect x="1666.0" y="343.1" width="20" height="20" fill="#ff4000"/>
<rect x="1667.1" y="344.2" width="17.8" height="17.8" fill="none" stroke="#3a1400" stroke-opacity="0.42" stroke-width="2.2"/>
<rect x="1666.0" y="368.9" width="20" height="20" fill="#ff4000"/>
<rect x="1667.1" y="370.0" width="17.8" height="17.8" fill="none" stroke="#3a1400" stroke-opacity="0.42" stroke-width="2.2"/>
<rect x="1708.3" y="33.8" width="20" height="20" fill="#ff4000"/>
<rect x="1709.4" y="34.9" width="17.8" height="17.8" fill="none" stroke="#3a1400" stroke-opacity="0.42" stroke-width="2.2"/>
<rect x="1708.3" y="59.6" width="20" height="20" fill="#ff4000"/>
<rect x="1709.4" y="60.7" width="17.8" height="17.8" fill="none" stroke="#3a1400" stroke-opacity="0.42" stroke-width="2.2"/>
<rect x="1708.3" y="85.3" width="20" height="20" fill="#ff4000"/>
<rect x="1709.4" y="86.4" width="17.8" height="17.8" fill="none" stroke="#3a1400" stroke-opacity="0.42" stroke-width="2.2"/>
<rect x="1708.3" y="111.1" width="20" height="20" fill="#ff4000"/>
<rect x="1709.4" y="112.2" width="17.8" height="17.8" fill="none" stroke="#3a1400" stroke-opacity="0.42" stroke-width="2.2"/>
<rect x="1708.3" y="136.9" width="20" height="20" fill="#ff4000"/>
<rect x="1709.4" y="138.0" width="17.8" height="17.8" fill="none" stroke="#3a1400" stroke-opacity="0.42" stroke-width="2.2"/>
<rect x="1708.3" y="162.7" width="20" height="20" fill="#ff4000"/>
<rect x="1709.4" y="163.8" width="17.8" height="17.8" fill="none" stroke="#3a1400" stroke-opacity="0.42" stroke-width="2.2"/>
<rect x="1708.3" y="188.5" width="20" height="20" fill="#ff4000"/>
<rect x="1709.4" y="189.6" width="17.8" height="17.8" fill="none" stroke="#3a1400" stroke-opacity="0.42" stroke-width="2.2"/>
<rect x="1708.3" y="214.2" width="20" height="20" fill="#ff4000"/>
<rect x="1709.4" y="215.3" width="17.8" height="17.8" fill="none" stroke="#3a1400" stroke-opacity="0.42" stroke-width="2.2"/>
<rect x="1708.3" y="240.0" width="20" height="20" fill="#ff4000"/>
<rect x="1709.4" y="241.1" width="17.8" height="17.8" fill="none" stroke="#3a1400" stroke-opacity="0.42" stroke-width="2.2"/>
<rect x="1708.3" y="265.8" width="20" height="20" fill="#ff4000"/>
<rect x="1709.4" y="266.9" width="17.8" height="17.8" fill="none" stroke="#3a1400" stroke-opacity="0.42" stroke-width="2.2"/>
<rect x="1708.3" y="291.6" width="20" height="20" fill="#ff4000"/>
<rect x="1709.4" y="292.7" width="17.8" height="17.8" fill="none" stroke="#3a1400" stroke-opacity="0.42" stroke-width="2.2"/>
<rect x="1708.3" y="317.4" width="20" height="20" fill="#ff4000"/>
<rect x="1709.4" y="318.5" width="17.8" height="17.8" fill="none" stroke="#3a1400" stroke-opacity="0.42" stroke-width="2.2"/>
<rect x="1708.3" y="343.1" width="20" height="20" fill="#ff4000"/>
<rect x="1709.4" y="344.2" width="17.8" height="17.8" fill="none" stroke="#3a1400" stroke-opacity="0.42" stroke-width="2.2"/>
<rect x="1708.3" y="368.9" width="20" height="20" fill="#ff4000"/>
<rect x="1709.4" y="370.0" width="17.8" height="17.8" fill="none" stroke="#3a1400" stroke-opacity="0.42" stroke-width="2.2"/>
<rect x="1454.6" y="396.5" width="20" height="680.5" fill="#ff4000"/>
<rect x="1454.6" y="397.0" width="20" height="22.0" fill="#ff0000"/>
<rect x="1454.6" y="581.5" width="20" height="4.5" fill="#ff0000"/>
<rect x="1454.6" y="616.0" width="20" height="11.5" fill="#ff0000"/>
<rect x="1454.6" y="669.0" width="20" height="17.5" fill="#ff0000"/>
<rect x="1454.6" y="719.5" width="20" height="357.5" fill="#ff0000"/>
<rect x="1454.6" y="990.0" width="20" height="12.0" fill="#ff4000"/>
<rect x="1455.7" y="397.6" width="17.8" height="678.3" fill="none" stroke="#3a1400" stroke-opacity="0.42" stroke-width="2.2"/>
<rect x="1496.9" y="396.5" width="20" height="680.5" fill="#ff4000"/>
<rect x="1496.9" y="442.0" width="20" height="3.5" fill="#ff0000"/>
<rect x="1496.9" y="601.5" width="20" height="4.5" fill="#ff0000"/>
<rect x="1496.9" y="616.0" width="20" height="14.0" fill="#ff0000"/>
<rect x="1496.9" y="652.0" width="20" height="13.0" fill="#ff0000"/>
<rect x="1496.9" y="714.0" width="20" height="23.0" fill="#ff0000"/>
<rect x="1496.9" y="766.0" width="20" height="24.0" fill="#ff0000"/>
<rect x="1496.9" y="800.0" width="20" height="104.0" fill="#ff0000"/>
<rect x="1496.9" y="840.0" width="20" height="8.0" fill="#ff4000"/>
<rect x="1496.9" y="979.0" width="20" height="98.0" fill="#ff0000"/>
<rect x="1496.9" y="1010.0" width="20" height="6.0" fill="#ff4000"/>
<rect x="1498.0" y="397.6" width="17.8" height="678.3" fill="none" stroke="#3a1400" stroke-opacity="0.42" stroke-width="2.2"/>
<rect x="1539.2" y="396.5" width="20" height="680.5" fill="#ff4000"/>
<rect x="1539.2" y="792.0" width="20" height="123.5" fill="#ff0000"/>
<rect x="1539.2" y="1008.0" width="20" height="69.0" fill="#ff0000"/>
<rect x="1539.2" y="1040.0" width="20" height="6.0" fill="#ff4000"/>
<rect x="1540.3" y="397.6" width="17.8" height="678.3" fill="none" stroke="#3a1400" stroke-opacity="0.42" stroke-width="2.2"/>
<rect x="1581.5" y="396.5" width="20" height="680.5" fill="#ff4000"/>
<rect x="1581.5" y="1060.0" width="20" height="17.0" fill="#ff0000"/>
<rect x="1582.6" y="397.6" width="17.8" height="678.3" fill="none" stroke="#3a1400" stroke-opacity="0.42" stroke-width="2.2"/>
<rect x="1623.8" y="396.5" width="20" height="680.5" fill="#ff4000"/>
<rect x="1623.8" y="930.0" width="20" height="37.5" fill="#ff5a00"/>
<rect x="1623.8" y="1065.0" width="20" height="12.0" fill="#ff0000"/>
<rect x="1624.9" y="397.6" width="17.8" height="678.3" fill="none" stroke="#3a1400" stroke-opacity="0.42" stroke-width="2.2"/>
<rect x="1666.0" y="396.5" width="20" height="680.5" fill="#ff4000"/>
<rect x="1666.0" y="904.0" width="20" height="84.0" fill="#ff5a00"/>
<rect x="1666.0" y="925.0" width="20" height="7.0" fill="#ff4000"/>
<rect x="1666.0" y="955.0" width="20" height="7.0" fill="#ff4000"/>
<rect x="1667.1" y="397.6" width="17.8" height="678.3" fill="none" stroke="#3a1400" stroke-opacity="0.42" stroke-width="2.2"/>
<rect x="1708.3" y="396.5" width="20" height="680.5" fill="#ff4000"/>
<rect x="1708.3" y="396.5" width="20" height="487.5" fill="#ff4c00"/>
<rect x="1708.3" y="399.0" width="20" height="2.2" fill="#ff6000"/>
<rect x="1708.3" y="404.2" width="20" height="2.2" fill="#ff6000"/>
<rect x="1708.3" y="409.4" width="20" height="2.2" fill="#ff6000"/>
<rect x="1708.3" y="414.6" width="20" height="2.2" fill="#ff6000"/>
<rect x="1708.3" y="419.8" width="20" height="2.2" fill="#ff6000"/>
<rect x="1708.3" y="425.0" width="20" height="2.2" fill="#ff6000"/>
<rect x="1708.3" y="430.2" width="20" height="2.2" fill="#ff6000"/>
<rect x="1708.3" y="435.4" width="20" height="2.2" fill="#ff6000"/>
<rect x="1708.3" y="440.6" width="20" height="2.2" fill="#ff6000"/>
<rect x="1708.3" y="445.8" width="20" height="2.2" fill="#ff6000"/>
<rect x="1708.3" y="451.0" width="20" height="2.2" fill="#ff6000"/>
<rect x="1708.3" y="456.2" width="20" height="2.2" fill="#ff6000"/>
<rect x="1708.3" y="461.4" width="20" height="2.2" fill="#ff6000"/>
<rect x="1708.3" y="466.6" width="20" height="2.2" fill="#ff6000"/>
<rect x="1708.3" y="471.8" width="20" height="2.2" fill="#ff6000"/>
<rect x="1708.3" y="477.0" width="20" height="2.2" fill="#ff6000"/>
<rect x="1708.3" y="482.2" width="20" height="2.2" fill="#ff6000"/>
<rect x="1708.3" y="487.4" width="20" height="2.2" fill="#ff6000"/>
<rect x="1708.3" y="492.6" width="20" height="2.2" fill="#ff6000"/>
<rect x="1708.3" y="497.8" width="20" height="2.2" fill="#ff6000"/>
<rect x="1708.3" y="503.0" width="20" height="2.2" fill="#ff6000"/>
<rect x="1708.3" y="508.2" width="20" height="2.2" fill="#ff6000"/>
<rect x="1708.3" y="513.4" width="20" height="2.2" fill="#ff6000"/>
<rect x="1708.3" y="518.6" width="20" height="2.2" fill="#ff6000"/>
<rect x="1708.3" y="523.8" width="20" height="2.2" fill="#ff6000"/>
<rect x="1708.3" y="529.0" width="20" height="2.2" fill="#ff6000"/>
<rect x="1708.3" y="534.2" width="20" height="2.2" fill="#ff6000"/>
<rect x="1708.3" y="539.4" width="20" height="2.2" fill="#ff6000"/>
<rect x="1708.3" y="544.6" width="20" height="2.2" fill="#ff6000"/>
<rect x="1708.3" y="549.8" width="20" height="2.2" fill="#ff6000"/>
<rect x="1708.3" y="555.0" width="20" height="2.2" fill="#ff6000"/>
<rect x="1708.3" y="560.2" width="20" height="2.2" fill="#ff6000"/>
<rect x="1708.3" y="565.4" width="20" height="2.2" fill="#ff6000"/>
<rect x="1708.3" y="570.6" width="20" height="2.2" fill="#ff6000"/>
<rect x="1708.3" y="575.8" width="20" height="2.2" fill="#ff6000"/>
<rect x="1708.3" y="581.0" width="20" height="2.2" fill="#ff6000"/>
<rect x="1708.3" y="586.2" width="20" height="2.2" fill="#ff6000"/>
<rect x="1708.3" y="591.4" width="20" height="2.2" fill="#ff6000"/>
<rect x="1708.3" y="596.6" width="20" height="2.2" fill="#ff6000"/>
<rect x="1708.3" y="601.8" width="20" height="2.2" fill="#ff6000"/>
<rect x="1708.3" y="607.0" width="20" height="2.2" fill="#ff6000"/>
<rect x="1708.3" y="612.2" width="20" height="2.2" fill="#ff6000"/>
<rect x="1708.3" y="617.4" width="20" height="2.2" fill="#ff6000"/>
<rect x="1708.3" y="622.6" width="20" height="2.2" fill="#ff6000"/>
<rect x="1708.3" y="627.8" width="20" height="2.2" fill="#ff6000"/>
<rect x="1708.3" y="633.0" width="20" height="2.2" fill="#ff6000"/>
<rect x="1708.3" y="638.2" width="20" height="2.2" fill="#ff6000"/>
<rect x="1708.3" y="643.4" width="20" height="2.2" fill="#ff6000"/>
<rect x="1708.3" y="648.6" width="20" height="2.2" fill="#ff6000"/>
<rect x="1708.3" y="653.8" width="20" height="2.2" fill="#ff6000"/>
<rect x="1708.3" y="659.0" width="20" height="2.2" fill="#ff6000"/>
<rect x="1708.3" y="664.2" width="20" height="2.2" fill="#ff6000"/>
<rect x="1708.3" y="669.4" width="20" height="2.2" fill="#ff6000"/>
<rect x="1708.3" y="674.6" width="20" height="2.2" fill="#ff6000"/>
<rect x="1708.3" y="679.8" width="20" height="2.2" fill="#ff6000"/>
<rect x="1708.3" y="685.0" width="20" height="2.2" fill="#ff6000"/>
<rect x="1708.3" y="690.2" width="20" height="2.2" fill="#ff6000"/>
<rect x="1708.3" y="695.4" width="20" height="2.2" fill="#ff6000"/>
<rect x="1708.3" y="700.6" width="20" height="2.2" fill="#ff6000"/>
<rect x="1708.3" y="705.8" width="20" height="2.2" fill="#ff6000"/>
<rect x="1708.3" y="711.0" width="20" height="2.2" fill="#ff6000"/>
<rect x="1708.3" y="716.2" width="20" height="2.2" fill="#ff6000"/>
<rect x="1708.3" y="721.4" width="20" height="2.2" fill="#ff6000"/>
<rect x="1708.3" y="726.6" width="20" height="2.2" fill="#ff6000"/>
<rect x="1708.3" y="731.8" width="20" height="2.2" fill="#ff6000"/>
<rect x="1708.3" y="737.0" width="20" height="2.2" fill="#ff6000"/>
<rect x="1708.3" y="742.2" width="20" height="2.2" fill="#ff6000"/>
<rect x="1708.3" y="747.4" width="20" height="2.2" fill="#ff6000"/>
<rect x="1708.3" y="752.6" width="20" height="2.2" fill="#ff6000"/>
<rect x="1708.3" y="757.8" width="20" height="2.2" fill="#ff6000"/>
<rect x="1708.3" y="763.0" width="20" height="2.2" fill="#ff6000"/>
<rect x="1708.3" y="768.2" width="20" height="2.2" fill="#ff6000"/>
<rect x="1708.3" y="773.4" width="20" height="2.2" fill="#ff6000"/>
<rect x="1708.3" y="778.6" width="20" height="2.2" fill="#ff6000"/>
<rect x="1708.3" y="783.8" width="20" height="2.2" fill="#ff6000"/>
<rect x="1708.3" y="789.0" width="20" height="2.2" fill="#ff6000"/>
<rect x="1708.3" y="794.2" width="20" height="2.2" fill="#ff6000"/>
<rect x="1708.3" y="799.4" width="20" height="2.2" fill="#ff6000"/>
<rect x="1708.3" y="804.6" width="20" height="2.2" fill="#ff6000"/>
<rect x="1708.3" y="809.8" width="20" height="2.2" fill="#ff6000"/>
<rect x="1708.3" y="815.0" width="20" height="2.2" fill="#ff6000"/>
<rect x="1708.3" y="820.2" width="20" height="2.2" fill="#ff6000"/>
<rect x="1708.3" y="825.4" width="20" height="2.2" fill="#ff6000"/>
<rect x="1708.3" y="830.6" width="20" height="2.2" fill="#ff6000"/>
<rect x="1708.3" y="835.8" width="20" height="2.2" fill="#ff6000"/>
<rect x="1708.3" y="841.0" width="20" height="2.2" fill="#ff6000"/>
<rect x="1708.3" y="846.2" width="20" height="2.2" fill="#ff6000"/>
<rect x="1708.3" y="851.4" width="20" height="2.2" fill="#ff6000"/>
<rect x="1708.3" y="856.6" width="20" height="2.2" fill="#ff6000"/>
<rect x="1708.3" y="861.8" width="20" height="2.2" fill="#ff6000"/>
<rect x="1708.3" y="867.0" width="20" height="2.2" fill="#ff6000"/>
<rect x="1708.3" y="872.2" width="20" height="2.2" fill="#ff6000"/>
<rect x="1708.3" y="877.4" width="20" height="2.2" fill="#ff6000"/>
<rect x="1708.3" y="884.0" width="20" height="57.5" fill="#ff5a00"/>
<rect x="1709.4" y="397.6" width="17.8" height="678.3" fill="none" stroke="#3a1400" stroke-opacity="0.42" stroke-width="2.2"/>
<rect x="1750.6" y="33.8" width="20" height="20" fill="#ff6000"/>
<rect x="1751.7" y="34.9" width="17.8" height="17.8" fill="none" stroke="#3a1400" stroke-opacity="0.42" stroke-width="2.2"/>
<rect x="1750.6" y="59.6" width="20" height="20" fill="#ff6000"/>
<rect x="1751.7" y="60.7" width="17.8" height="17.8" fill="none" stroke="#3a1400" stroke-opacity="0.42" stroke-width="2.2"/>
<rect x="1750.6" y="85.3" width="20" height="20" fill="#ff6000"/>
<rect x="1751.7" y="86.4" width="17.8" height="17.8" fill="none" stroke="#3a1400" stroke-opacity="0.42" stroke-width="2.2"/>
<rect x="1750.6" y="111.1" width="20" height="20" fill="#ff6000"/>
<rect x="1751.7" y="112.2" width="17.8" height="17.8" fill="none" stroke="#3a1400" stroke-opacity="0.42" stroke-width="2.2"/>
<rect x="1750.6" y="136.9" width="20" height="20" fill="#ff6000"/>
<rect x="1751.7" y="138.0" width="17.8" height="17.8" fill="none" stroke="#3a1400" stroke-opacity="0.42" stroke-width="2.2"/>
<rect x="1750.6" y="162.7" width="20" height="20" fill="#ff6000"/>
<rect x="1751.7" y="163.8" width="17.8" height="17.8" fill="none" stroke="#3a1400" stroke-opacity="0.42" stroke-width="2.2"/>
<rect x="1750.6" y="188.5" width="20" height="20" fill="#ff6000"/>
<rect x="1751.7" y="189.6" width="17.8" height="17.8" fill="none" stroke="#3a1400" stroke-opacity="0.42" stroke-width="2.2"/>
<rect x="1750.6" y="214.2" width="20" height="20" fill="#ff6000"/>
<rect x="1751.7" y="215.3" width="17.8" height="17.8" fill="none" stroke="#3a1400" stroke-opacity="0.42" stroke-width="2.2"/>
<rect x="1750.6" y="240.0" width="20" height="20" fill="#ff6000"/>
<rect x="1751.7" y="241.1" width="17.8" height="17.8" fill="none" stroke="#3a1400" stroke-opacity="0.42" stroke-width="2.2"/>
<rect x="1750.6" y="265.8" width="20" height="20" fill="#ff6000"/>
<rect x="1751.7" y="266.9" width="17.8" height="17.8" fill="none" stroke="#3a1400" stroke-opacity="0.42" stroke-width="2.2"/>
<rect x="1750.6" y="291.6" width="20" height="20" fill="#ff6000"/>
<rect x="1751.7" y="292.7" width="17.8" height="17.8" fill="none" stroke="#3a1400" stroke-opacity="0.42" stroke-width="2.2"/>
<rect x="1750.6" y="317.4" width="20" height="20" fill="#ff6000"/>
<rect x="1751.7" y="318.5" width="17.8" height="17.8" fill="none" stroke="#3a1400" stroke-opacity="0.42" stroke-width="2.2"/>
<rect x="1750.6" y="343.1" width="20" height="20" fill="#ff6000"/>
<rect x="1751.7" y="344.2" width="17.8" height="17.8" fill="none" stroke="#3a1400" stroke-opacity="0.42" stroke-width="2.2"/>
<rect x="1750.6" y="368.9" width="20" height="20" fill="#ff6000"/>
<rect x="1751.7" y="370.0" width="17.8" height="17.8" fill="none" stroke="#3a1400" stroke-opacity="0.42" stroke-width="2.2"/>
<rect x="1750.6" y="396.5" width="20" height="680.5" fill="#ff4c00"/>
<rect x="1751.7" y="397.6" width="17.8" height="678.3" fill="none" stroke="#3a1400" stroke-opacity="0.42" stroke-width="2.2"/>
</g>
<g clip-path="url(#rc)" opacity="0.55">
<rect x="1750" y="33.8" width="20" height="20" fill="#ff6000"/>
<rect x="1750" y="59.6" width="20" height="20" fill="#ff6000"/>
<rect x="1750" y="85.3" width="20" height="20" fill="#ff6000"/>
<rect x="1750" y="111.1" width="20" height="20" fill="#ff6000"/>
<rect x="1750" y="136.9" width="20" height="20" fill="#ff6000"/>
<rect x="1750" y="162.7" width="20" height="20" fill="#ff6000"/>
<rect x="1750" y="188.5" width="20" height="20" fill="#ff6000"/>
<rect x="1750" y="214.2" width="20" height="20" fill="#ff6000"/>
<rect x="1750" y="240.0" width="20" height="20" fill="#ff6000"/>
<rect x="1750" y="265.8" width="20" height="20" fill="#ff6000"/>
<rect x="1750" y="291.6" width="20" height="20" fill="#ff6000"/>
<rect x="1750" y="317.4" width="20" height="20" fill="#ff6000"/>
<rect x="1750" y="343.1" width="20" height="20" fill="#ff6000"/>
<rect x="1750" y="368.9" width="20" height="20" fill="#ff6000"/>
<rect x="1750" y="396.5" width="20" height="680.5" fill="#ff4c00"/>
</g>
<rect x="344.5" y="526.80" width="200.3" height="51.90" fill="#ff0000"/>
<rect x="344.5" y="578.20" width="200.3" height="53.10" fill="#ff4000"/>
<rect x="344.5" y="630.80" width="200.3" height="54.20" fill="#ff6000"/>
<rect x="344.5" y="684.50" width="200.3" height="54.20" fill="#ff8000"/>
<rect x="344.5" y="738.20" width="200.3" height="53.90" fill="#ffff00"/>
<rect x="344.5" y="791.60" width="200.3" height="53.20" fill="#00ff00"/>
<rect x="344.5" y="844.30" width="200.3" height="54.20" fill="#00ffff"/>
<rect x="344.5" y="898.00" width="200.3" height="53.70" fill="#0080ff"/>
<rect x="344.5" y="951.20" width="200.3" height="54.10" fill="#0000ff"/>
<rect x="344.5" y="1004.80" width="200.3" height="50.60" fill="#000000"/>
<rect x="345.2" y="527.5" width="198.9" height="527.2" fill="none" stroke="#000" stroke-opacity="0.3" stroke-width="1.4"/>
<text x="560" y="543.3" font-size="40" style="fill:#262626">0.0</text>
<text x="560" y="596.2" font-size="40" style="fill:#262626">0.1</text>
<text x="560" y="649.2" font-size="40" style="fill:#262626">0.2</text>
<text x="560" y="702.1" font-size="40" style="fill:#262626">0.3</text>
<text x="560" y="755.1" font-size="40" style="fill:#262626">0.4</text>
<text x="560" y="808.0" font-size="40" style="fill:#262626">0.5</text>
<text x="560" y="861.0" font-size="40" style="fill:#262626">0.6</text>
<text x="560" y="914.0" font-size="40" style="fill:#262626">0.7</text>
<text x="560" y="966.9" font-size="40" style="fill:#262626">0.8</text>
<text x="560" y="1019.8" font-size="40" style="fill:#262626">0.9</text>
<line x1="384.7" y1="20.4" x2="1569.6" y2="1031.1" stroke="#000" stroke-width="3.8" stroke-linecap="butt"/>
<text x="215.6" y="1092.3" font-size="63.5" text-anchor="end">0</text>
<text x="215.6" y="886.1" font-size="63.5" text-anchor="end">40</text>
<text x="215.6" y="679.8" font-size="63.5" text-anchor="end">80</text>
<text x="215.6" y="473.6" font-size="63.5" text-anchor="end">120</text>
<text x="215.6" y="267.3" font-size="63.5" text-anchor="end">160</text>
<text x="215.6" y="61.1" font-size="63.5" text-anchor="end">200</text>
<text x="322.7" y="1146" font-size="63.5" text-anchor="middle">4</text>
<text x="492.0" y="1146" font-size="63.5" text-anchor="middle">5</text>
<text x="661.3" y="1146" font-size="63.5" text-anchor="middle">6</text>
<text x="830.7" y="1146" font-size="63.5" text-anchor="middle">7</text>
<text x="1000.0" y="1146" font-size="63.5" text-anchor="middle">8</text>
<text x="1169.3" y="1146" font-size="63.5" text-anchor="middle">9</text>
<text x="1338.7" y="1146" font-size="63.5" text-anchor="middle">10</text>
<text x="1508.0" y="1146" font-size="63.5" text-anchor="middle">11</text>
<text x="1677.3" y="1146" font-size="63.5" text-anchor="middle">12</text>
<text x="636" y="1222" font-size="72" xml:space="preserve">reversed dc field  (T)</text>
<text transform="translate(68.5 630) rotate(-90)" font-size="72">f (GHz)</text>
</svg></div></body></html>
